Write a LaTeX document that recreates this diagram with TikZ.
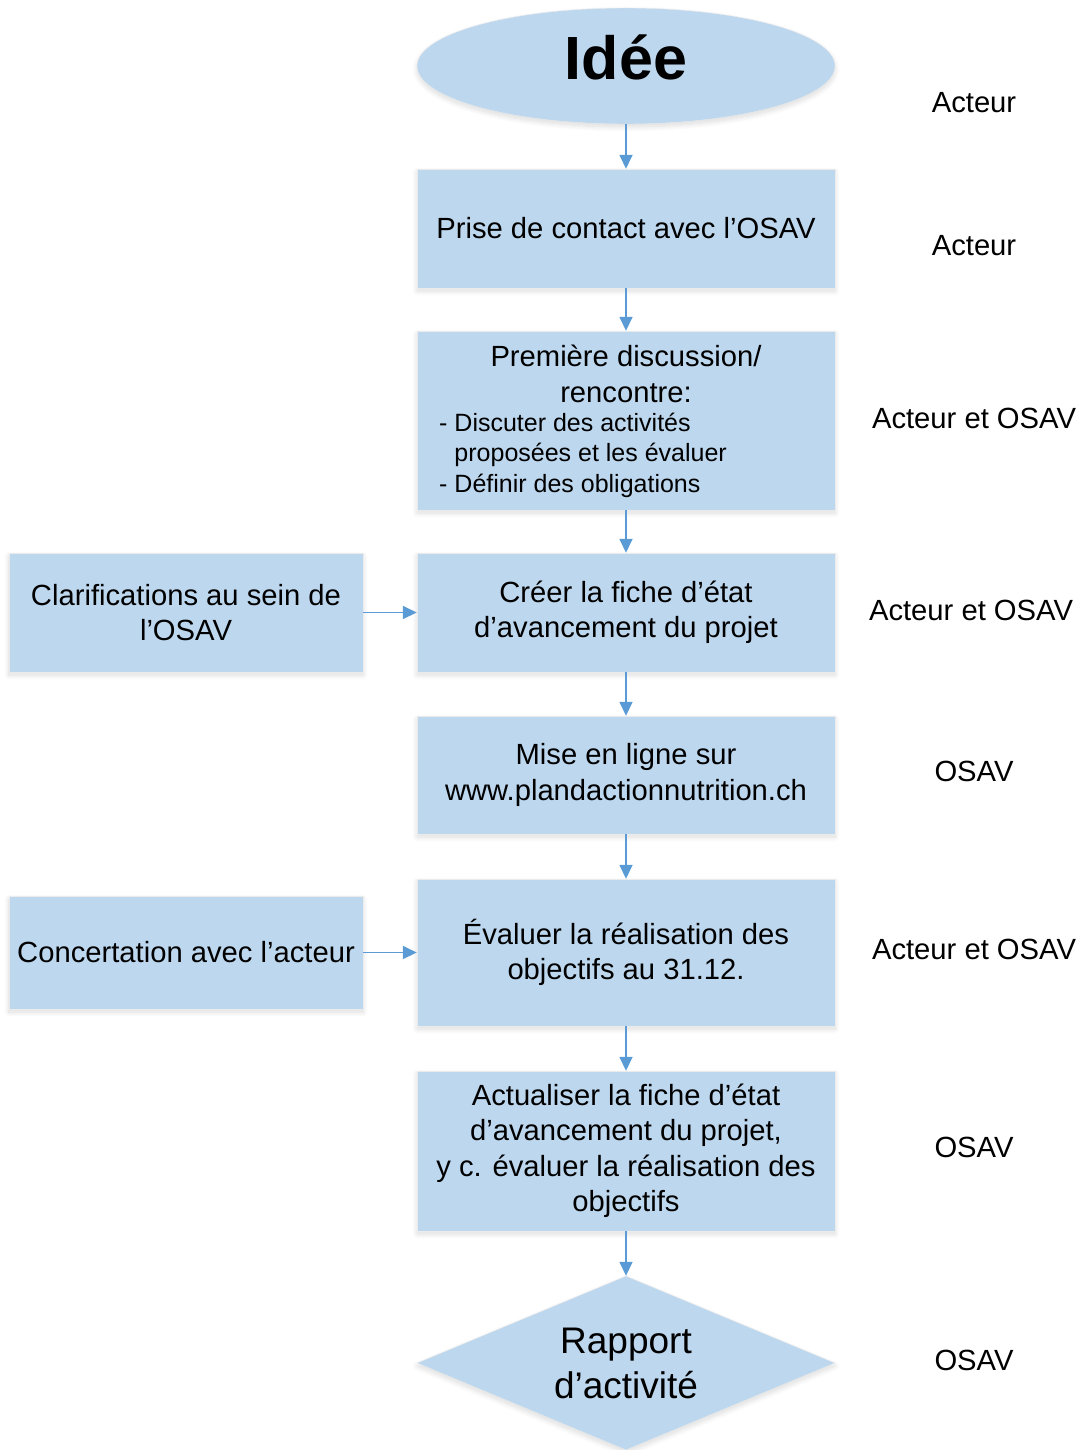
\documentclass[tikz,border=0pt]{standalone}
\usepackage{fontspec}
\setmainfont{Liberation Sans}
\usetikzlibrary{shapes.geometric,arrows.meta,shadows.blur}
\definecolor{boxfill}{RGB}{189,215,238}
\definecolor{arrowc}{RGB}{91,155,213}
\begin{document}
\begin{tikzpicture}[x=1pt,y=-1pt,
  shade box/.style={blur shadow={shadow xshift=0pt, shadow yshift=-3pt, shadow blur radius=5pt, shadow blur steps=12, shadow opacity=14}},
  box/.style={rectangle, fill=boxfill, draw=black!8, line width=0.4pt, inner sep=0pt,
    minimum width=418pt, align=center, font=\fontsize{29.2}{35.5}\selectfont, shade box},
  sidebox/.style={box, minimum width=354pt},
  lab/.style={font=\fontsize{29.2}{35}\selectfont, inner sep=0pt},
  conn/.style={draw=arrowc, line width=1.6pt, -{Triangle[length=14pt,width=13pt]}}
]
\useasboundingbox (0,0) rectangle (1081,1450);

\node[ellipse, fill=boxfill, draw=black!8, line width=0.4pt, inner sep=0pt,
  minimum width=418pt, minimum height=116pt, shade box] (e0) at (626,66) {};
\node[inner sep=0pt, font=\fontsize{61}{70}\selectfont\bfseries] (e0t) at (626,57) {Idée};

\node[box, minimum height=119pt] (b1) at (626,228.5) {Prise de contact avec l’OSAV};

\node[box, minimum height=179pt] (b2) at (626,420.5) {};
\node[align=center, inner sep=0pt, font=\fontsize{29.2}{35.5}\selectfont] (b2t) at (626,374)
  {Première discussion/\\rencontre:};
\node[align=left, anchor=west, inner sep=0pt, font=\fontsize{25}{30.5}\selectfont] (b2l) at (439,455)
  {- Discuter des activités\\\phantom{- }proposées et les évaluer\\- Définir des obligations};

\node[box, minimum height=119pt] (b3) at (626,612.5) {Créer la fiche d’état\\d’avancement du projet};
\node[sidebox, minimum height=119pt] (l1) at (186,612.5) {Clarifications au sein de\\l’OSAV};

\node[box, minimum height=118pt] (b4) at (626,775) {Mise en ligne sur\\www.plandactionnutrition.ch};

\node[box, minimum height=147pt] (b5) at (626,952.5) {Évaluer la réalisation des\\objectifs au 31.12.};
\node[sidebox, minimum height=113pt] (l2) at (186,952.5) {Concertation avec l’acteur};

\node[box, minimum height=160pt] (b6) at (626,1151) {Actualiser la fiche d’état\\d’avancement du projet,\\y c. évaluer la réalisation des\\objectifs};

\node[diamond, fill=boxfill, draw=black!8, line width=0.4pt, inner sep=0pt, shape aspect=2.4,
  minimum width=418pt, minimum height=174pt, shade box, align=center,
  font=\fontsize{37}{45}\selectfont] (d) at (626,1363) {Rapport\\d’activité};

\node[lab] (r0) at (974,103) {Acteur};
\node[lab] (r1) at (974,246) {Acteur};
\node[lab] (r2) at (974,418) {Acteur et OSAV};
\node[lab] (r3) at (971,610) {Acteur et OSAV};
\node[lab] (r4) at (974,771) {OSAV};
\node[lab] (r5) at (974,949) {Acteur et OSAV};
\node[lab] (r6) at (974,1147) {OSAV};
\node[lab] (r7) at (974,1360) {OSAV};

\draw[conn] (e0.south) -- (b1.north);
\draw[conn] (b1.south) -- (b2.north);
\draw[conn] (b2.south) -- (b3.north);
\draw[conn] (b3.south) -- (b4.north);
\draw[conn] (b4.south) -- (b5.north);
\draw[conn] (b5.south) -- (b6.north);
\draw[conn] (b6.south) -- (d.north);
\draw[conn] (l1.east) -- (b3.west);
\draw[conn] (l2.east) -- (b5.west);
\end{tikzpicture}
\end{document}
